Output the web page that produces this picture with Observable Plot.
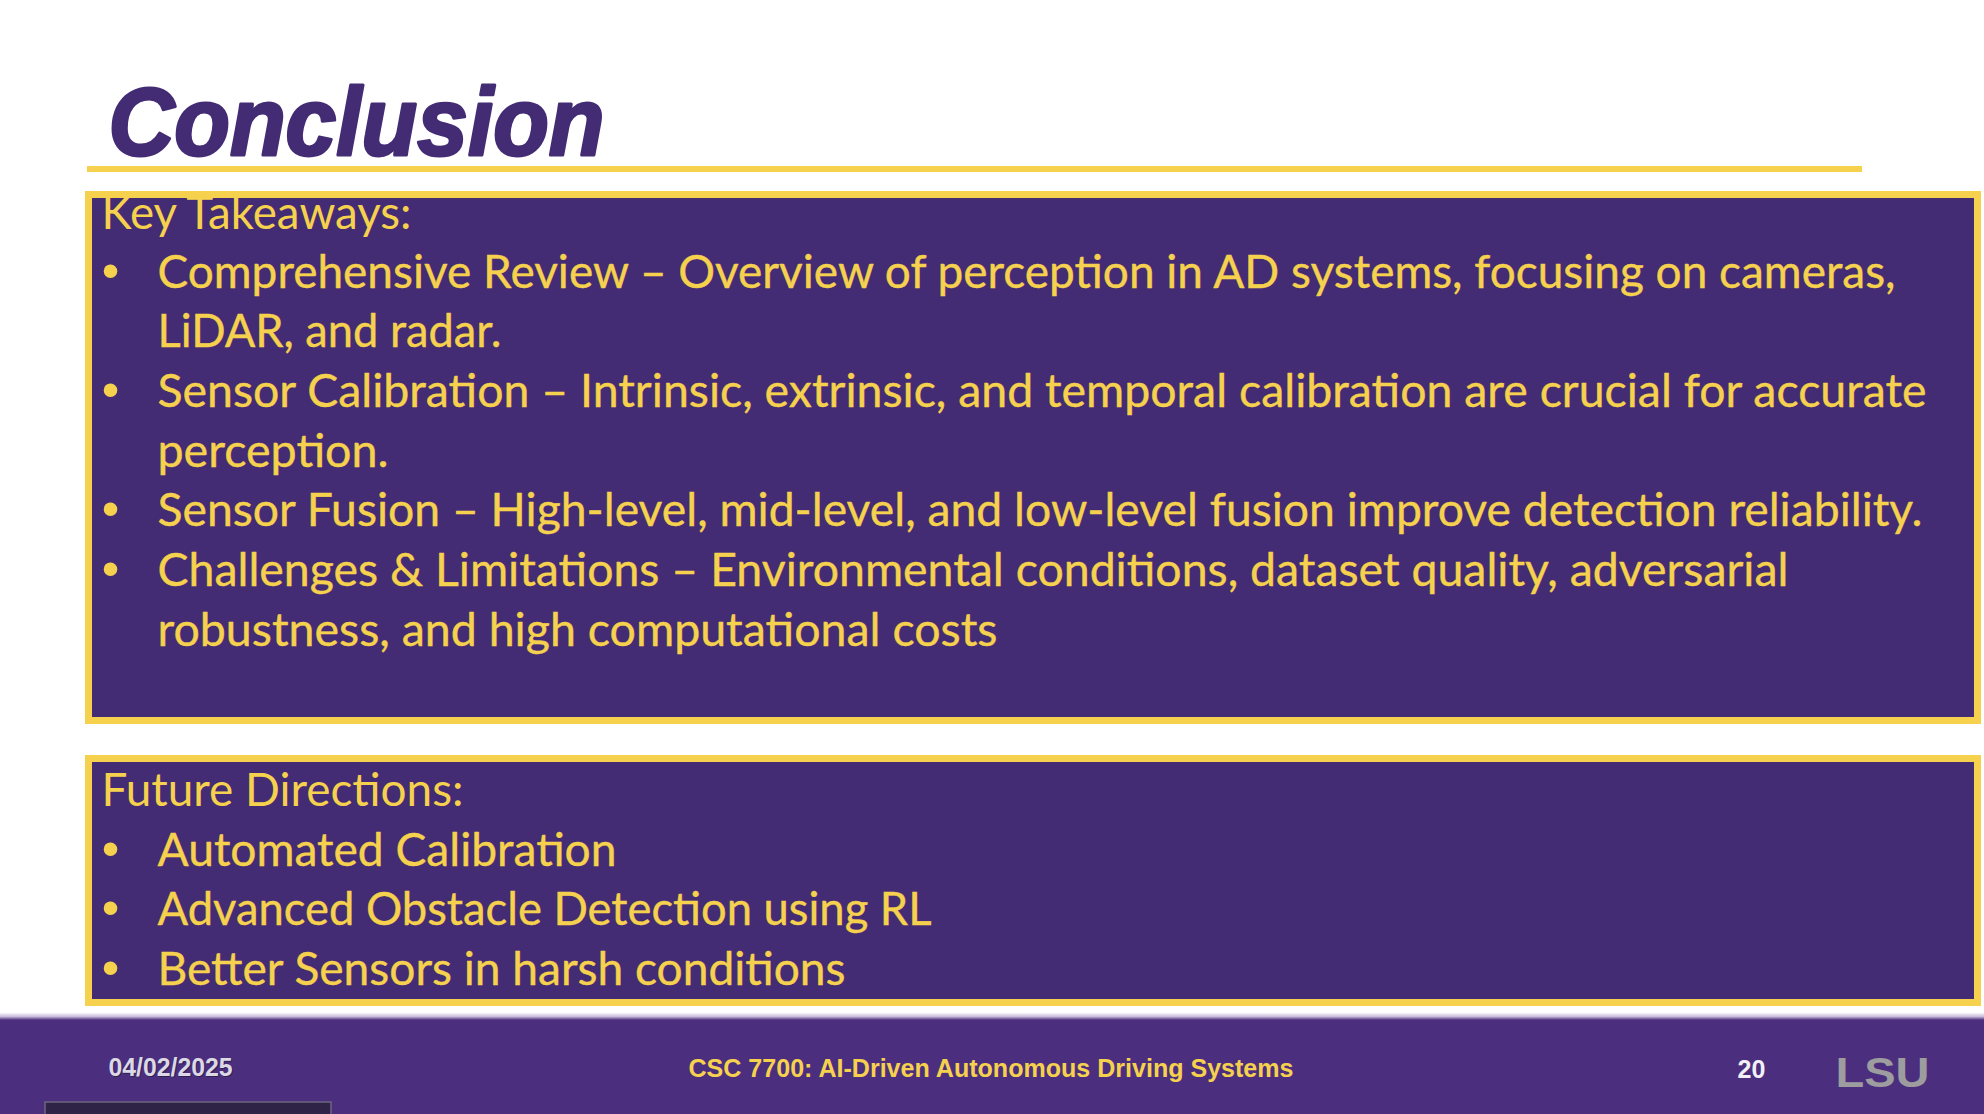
<!DOCTYPE html>
<html>
<head>
<meta charset="utf-8">
<script src="https://cdn.jsdelivr.net/npm/d3@7"></script>
<script src="https://cdn.jsdelivr.net/npm/@observablehq/plot@0.6"></script>
<style>
  html, body { margin: 0; padding: 0; background: #ffffff; }
  #chart svg { display: block; }
</style>
</head>
<body>
<div id="chart"></div>
<script>
// ---- Content ----
const slideTitle = "Conclusion";
const takeawaysHeading = "Key Takeaways:";
const takeawayLines = [
  "Comprehensive Review \u2013 Overview of perception in AD systems, focusing on cameras,",
  "LiDAR, and radar.",
  "Sensor Calibration \u2013 Intrinsic, extrinsic, and temporal calibration are crucial for accurate",
  "perception.",
  "Sensor Fusion \u2013 High-level, mid-level, and low-level fusion improve detection reliability.",
  "Challenges & Limitations \u2013 Environmental conditions, dataset quality, adversarial",
  "robustness, and high computational costs"
];
const takeawayBulletFlags = [true, false, true, false, true, true, false];
const futureHeading = "Future Directions:";
const futureLines = [
  "Automated Calibration",
  "Advanced Obstacle Detection using RL",
  "Better Sensors in harsh conditions"
];
const footerDate = "04/02/2025";
const footerCourse = "CSC 7700: AI-Driven Autonomous Driving Systems";
const footerPage = "20";
const footerLogo = "LSU";

// ---- Layout / style (not data) ----
const W = 1984, H = 1114;
const PURPLE = "#432c74", FOOT = "#4b2f7e", GOLD = "#f5d14e";
const bodyFont = "Lato, 'Open Sans', sans-serif";
const headFont = "'Liberation Sans', Arial, sans-serif";
const lineStep = 59.7;
const box1 = {x1: 85, x2: 1981, y1: 191, y2: 724};
const box2 = {x1: 85, x2: 1981, y1: 755, y2: 1006};
const bodyWidths = new Map([
  [takeawaysHeading, 310],
  [takeawayLines[0], 1738], [takeawayLines[1], 344], [takeawayLines[2], 1769],
  [takeawayLines[3], 231], [takeawayLines[4], 1765], [takeawayLines[5], 1631],
  [takeawayLines[6], 840],
  [futureHeading, 362],
  [futureLines[0], 459], [futureLines[1], 774], [futureLines[2], 688],
  [footerDate, 124], [footerCourse, 605], [footerLogo, 94], [slideTitle, 496]
]);

const tRows = takeawayLines.map((t, i) => ({text: t, y: 287 + i * lineStep, bullet: takeawayBulletFlags[i]}));
const fRows = futureLines.map((t, i) => ({text: t, y: 865 + i * lineStep, bullet: true}));
const bodyRows = tRows.concat(fRows);
const headRows = [{text: takeawaysHeading, y: 228}, {text: futureHeading, y: 805}];

function defsMark() {
  const ns = "http://www.w3.org/2000/svg";
  const defs = document.createElementNS(ns, "defs");
  const g = document.createElementNS(ns, "linearGradient");
  g.setAttribute("id", "footGrad");
  g.setAttribute("x1", "0"); g.setAttribute("x2", "0");
  g.setAttribute("y1", "0"); g.setAttribute("y2", "1");
  [["0", "#ffffff"], ["0.45", "#ffffff"], ["0.75", "#c9bcdc"], ["1", FOOT]].forEach(([o, c]) => {
    const s = document.createElementNS(ns, "stop");
    s.setAttribute("offset", o); s.setAttribute("stop-color", c);
    g.appendChild(s);
  });
  defs.appendChild(g);
  return defs;
}

const chart = Plot.plot({
  width: W, height: H, margin: 0,
  x: {domain: [0, W], range: [0, W], axis: null},
  y: {domain: [0, H], range: [0, H], axis: null},
  style: {background: "#ffffff"},
  marks: [
    defsMark,
    // title
    Plot.text([slideTitle], {x: 108, y: 154, text: d => d, textAnchor: "start", lineAnchor: "bottom",
      fontSize: 96, fontWeight: "bold", fontStyle: "italic", fontFamily: headFont,
      fill: PURPLE, stroke: PURPLE, strokeWidth: 3}),
    // gold rule under title
    Plot.rect([0], {x1: 87, x2: 1862, y1: 166, y2: 172, fill: GOLD}),
    // box fills
    Plot.rect([box1, box2], {x1: "x1", x2: "x2", y1: "y1", y2: "y2", fill: PURPLE}),
    // headings
    Plot.text(headRows, {x: 101, y: "y", text: "text", textAnchor: "start", lineAnchor: "bottom",
      fontSize: 46, fontFamily: bodyFont, fill: GOLD}),
    // bullets
    Plot.text(bodyRows.filter(d => d.bullet), {x: 110, y: "y", text: () => "\u2022", textAnchor: "middle",
      lineAnchor: "bottom", fontSize: 50, fontFamily: headFont, fill: GOLD}),
    // body lines
    Plot.text(bodyRows, {x: 157, y: "y", text: "text", textAnchor: "start", lineAnchor: "bottom",
      fontSize: 46, fontFamily: bodyFont, fill: GOLD, stroke: GOLD, strokeWidth: 0.4}),
    // box borders
    Plot.rect([box1, box2], {x1: d => d.x1 + 3.5, x2: d => d.x2 - 3.5, y1: d => d.y1 + 3.5, y2: d => d.y2 - 3.5,
      fill: "none", stroke: GOLD, strokeWidth: 7}),
    // footer
    Plot.rect([0], {x1: 0, x2: W, y1: 1006, y2: 1020, fill: "url(#footGrad)"}),
    Plot.rect([0], {x1: 0, x2: W, y1: 1020, y2: H, fill: FOOT}),
    Plot.text([footerDate], {x: 109, y: 1076, text: d => d, textAnchor: "start", lineAnchor: "bottom",
      fontSize: 25, fontWeight: "bold", fontFamily: headFont, fill: "#1e1830", opacity: 0.6}),
    Plot.text([footerDate], {x: 108, y: 1075, text: d => d, textAnchor: "start", lineAnchor: "bottom",
      fontSize: 25, fontWeight: "bold", fontFamily: headFont, fill: "#dcd8e6"}),
    Plot.text([footerCourse], {x: 688, y: 1076, text: d => d, textAnchor: "start", lineAnchor: "bottom",
      fontSize: 25, fontWeight: "bold", fontFamily: headFont, fill: GOLD}),
    Plot.text([footerPage], {x: 1737, y: 1077, text: d => d, textAnchor: "start", lineAnchor: "bottom",
      fontSize: 25, fontWeight: "bold", fontFamily: headFont, fill: "#f2f0f6"}),
    Plot.text([footerLogo], {x: 1835, y: 1086, text: d => d, textAnchor: "start", lineAnchor: "bottom",
      fontSize: 42, fontWeight: "bold", fontFamily: headFont, fill: "#9d9d9f"}),
    // small tab at bottom-left
    Plot.rect([0], {x1: 45, x2: 331, y1: 1102, y2: H + 4, fill: "#2f2347", stroke: "#6d6680", strokeWidth: 1.5})
  ]
});

chart.querySelectorAll("text").forEach(t => {
  const w = bodyWidths.get(t.textContent);
  if (w) {
    t.setAttribute("textLength", w);
    t.setAttribute("lengthAdjust", "spacingAndGlyphs");
  }
});
document.getElementById("chart").appendChild(chart);
</script>
</body>
</html>
